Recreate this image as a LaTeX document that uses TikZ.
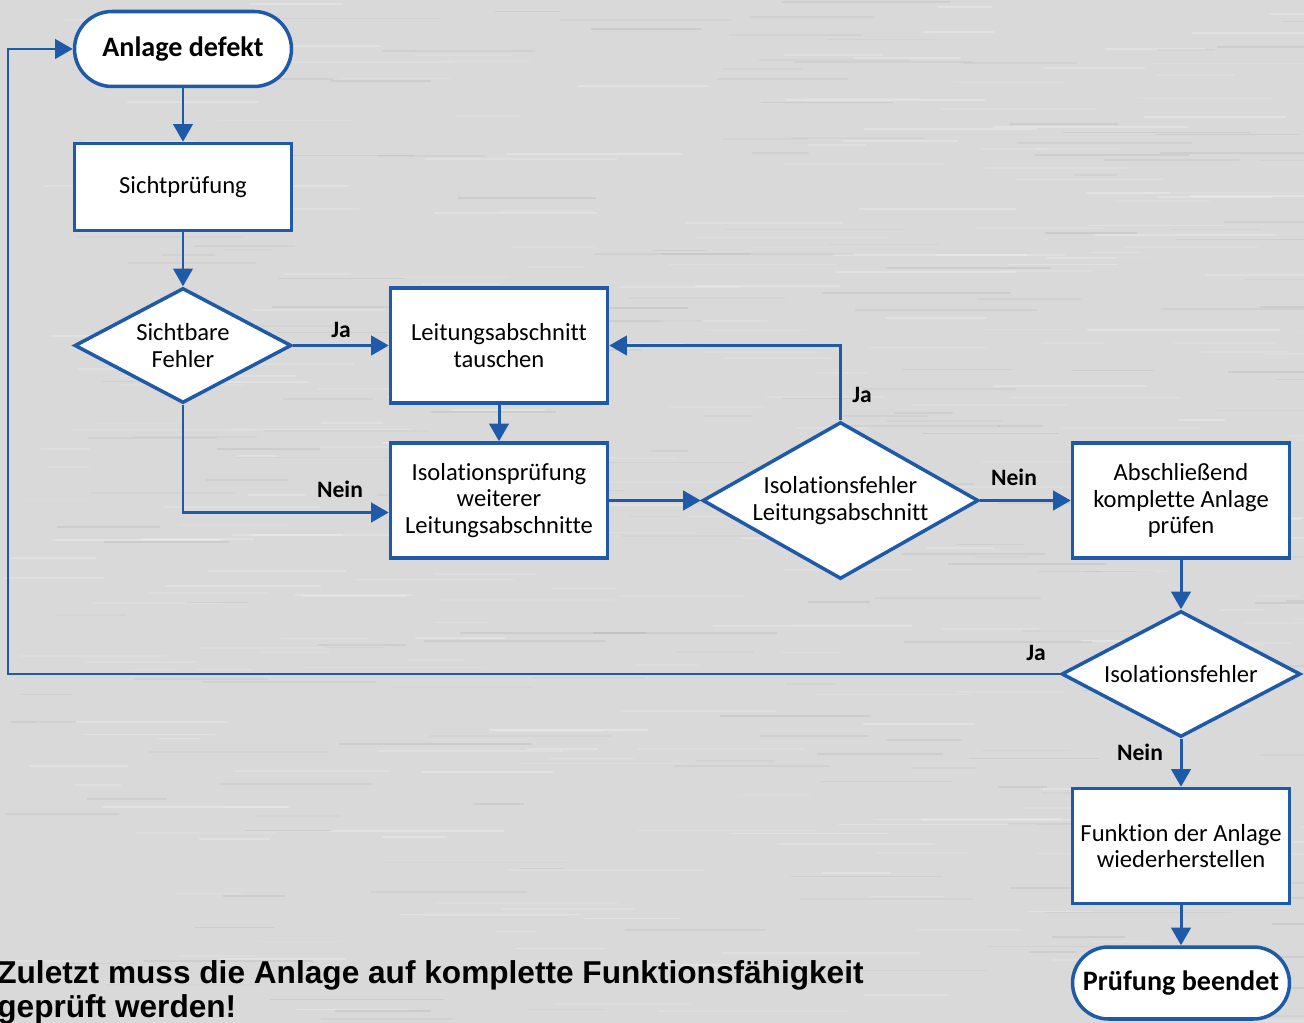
\documentclass[tikz,border=0pt]{standalone}
\usepackage{fontspec}
\setmainfont{Carlito}[Ligatures={NoCommon}]
\newfontfamily\arialfont{Liberation Sans}
\usetikzlibrary{arrows.meta,shapes.geometric}
\definecolor{fblue}{HTML}{1E5AA8}
\definecolor{bggray}{HTML}{D9D9D9}
\tikzset{
  box/.style={draw=fblue, line width=2pt, fill=white, minimum width=4.34cm,
    inner sep=0pt, align=center, font=\fontsize{14}{15}\selectfont},
  term/.style={box, font=\bfseries\fontsize{16}{17}\selectfont},
  dia/.style={diamond, draw=fblue, line width=2pt, fill=white, inner sep=0pt},
  dtxt/.style={align=center, inner sep=0pt, font=\fontsize{14}{15}\selectfont},
  arr/.style={draw=fblue, line width=1.7pt, -{Triangle[length=10pt,width=11pt]}},
  lbl/.style={inner sep=0pt, font=\bfseries\fontsize{13.4}{15}\selectfont},
  note/.style={anchor=base west, inner sep=0pt, font=\arialfont\bfseries\fontsize{18}{20}\selectfont},
  streak/.style={line width=1pt}
}
\begin{document}
\begin{tikzpicture}[x=0.02cm,y=-0.02cm]
\path[use as bounding box, fill=bggray] (0,0) rectangle (1304,1023);
% brushed background
\pgfmathsetseed{7}
\foreach \i in {1,...,260}{
  \pgfmathsetmacro{\yy}{rnd*1023}
  \pgfmathsetmacro{\xx}{rnd*1304}
  \pgfmathsetmacro{\ll}{40+rnd*160}
  \pgfmathsetmacro{\op}{0.08+rnd*0.17}
  \draw[streak, white, opacity=\op] (\xx,\yy) -- ++(\ll,0);
}
\foreach \i in {1,...,200}{
  \pgfmathsetmacro{\yy}{rnd*1023}
  \pgfmathsetmacro{\xx}{rnd*1304}
  \pgfmathsetmacro{\ll}{40+rnd*160}
  \pgfmathsetmacro{\op}{0.02+rnd*0.04}
  \draw[streak, black, opacity=\op] (\xx,\yy) -- ++(\ll,0);
}

% nodes
\node[term, minimum height=1.5cm, rounded corners=0.75cm] (start) at (183,49) {Anlage defekt};
\node[box, minimum height=1.74cm] (sicht) at (183,187) {Sichtprüfung};
\node[dia, minimum width=4.34cm, minimum height=2.3cm] (d1) at (183,345.5) {};
\node[dtxt] at (d1) {Sichtbare\\Fehler};
\node[box, minimum height=2.3cm] (tausch) at (499,345.5) {Leitungsabschnitt\\tauschen};
\node[box, minimum height=2.3cm] (iso) at (499,500.5) {Isolationsprüfung\\weiterer\\Leitungsabschnitte};
\node[dia, minimum width=5.52cm, minimum height=3.14cm] (d2) at (840.5,500.5) {};
\node[dtxt] at (d2) {Isolationsfehler\\Leitungsabschnitt};
\node[box, minimum height=2.3cm] (absch) at (1181,500.5) {Abschließend\\komplette Anlage\\prüfen};
\node[dia, minimum width=4.78cm, minimum height=2.52cm] (d3) at (1181,674) {};
\node[dtxt] at (d3) {Isolationsfehler};
\node[box, minimum height=2.3cm] (funk) at (1181,846) {Funktion der Anlage\\wiederherstellen};
\node[term, minimum height=1.44cm, rounded corners=0.72cm] (ende) at (1181,983) {Prüfung beendet};
\coordinate (back) at (8,674);

% connectors
\draw[arr] (start) -- (sicht);
\draw[arr] (sicht) -- (d1);
\draw[arr] (d1.east) -- (tausch.west);
\draw[arr] (d1.south) |- ([yshift=-0.24cm]iso.west);
\draw[arr] (tausch) -- (iso);
\draw[arr] (iso.east) -- (d2.west);
\draw[arr] (d2.north) |- (tausch.east);
\draw[arr] (d2.east) -- (absch.west);
\draw[arr] (absch) -- (d3);
\draw[arr] (d3.west) -- (back) |- (start.west);
\draw[arr] (d3.south) -- (funk.north);
\draw[arr] (funk) -- (ende);

% labels
\node[lbl] (l1) at (341,330) {Ja};
\node[lbl] (l2) at (340,489) {Nein};
\node[lbl] (l3) at (862,395) {Ja};
\node[lbl] (l4) at (1014,477) {Nein};
\node[lbl] (l5) at (1036,653) {Ja};
\node[lbl] (l6) at (1140,752) {Nein};

% note
\node[note] (n1) at (-3,983) {Zuletzt muss die Anlage auf komplette Funktionsfähigkeit};
\node[note] (n2) at (-3,1017) {geprüft werden!};
\end{tikzpicture}
\end{document}
